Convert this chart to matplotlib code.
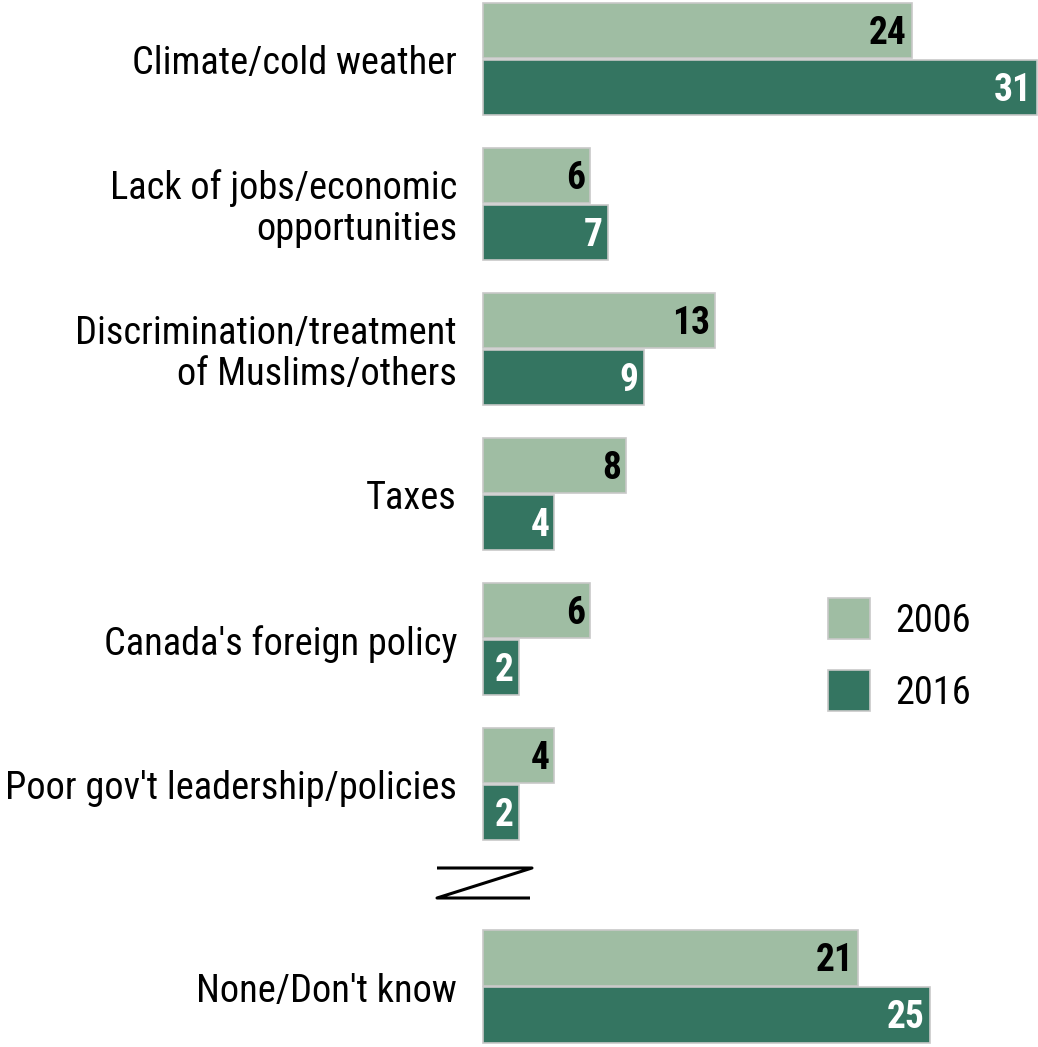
import matplotlib
matplotlib.use("Agg")
import matplotlib.pyplot as plt
from matplotlib.patches import Rectangle
from matplotlib.lines import Line2D

categories = [
    "Climate/cold weather",
    "Lack of jobs/economic\nopportunities",
    "Discrimination/treatment\nof Muslims/others",
    "Taxes",
    "Canada's foreign policy",
    "Poor gov't leadership/policies",
    "None/Don't know",
]
values_2006 = [24, 6, 13, 8, 6, 4, 21]
values_2016 = [31, 7, 9, 4, 2, 2, 25]
series_names = ["2006", "2016"]

color_2006 = "#9fbda3"
color_2016 = "#347561"
edge_color = "#c8c8c8"

plt.rcParams["font.family"] = ["Roboto Condensed", "DejaVu Sans"]

W, H = 1038, 1047
fig = plt.figure(figsize=(W / 100, H / 100), dpi=100)
ax = fig.add_axes([0, 0, 1, 1])

# x in value units (bars start at pixel 483), y in pixel rows from the top
px_per_unit = 554 / 31
x0 = 483 / px_per_unit
ax.set_xlim(-x0, (W - 483) / px_per_unit)
ax.set_ylim(H, 0)
ax.axis("off")

label_size = 27.6
value_size = 27

bar_h = 55.5
gap = 1.5
group_tops = [2.5 + 145 * i for i in range(6)] + [930]

for top, cat, v1, v2 in zip(group_tops, categories, values_2006, values_2016):
    y1 = top + bar_h / 2
    y2 = top + bar_h + gap + bar_h / 2
    ax.barh(y1, v1, height=bar_h, left=0, color=color_2006,
            edgecolor=edge_color, linewidth=1.2)
    ax.barh(y2, v2, height=bar_h, left=0, color=color_2016,
            edgecolor=edge_color, linewidth=1.2)
    pad = 5 / px_per_unit
    ax.text(v1 - pad, y1 + 3, str(v1), ha="right", va="center",
            fontsize=value_size, fontweight="bold", color="black")
    ax.text(v2 - pad, y2 + 3, str(v2), ha="right", va="center",
            fontsize=value_size, fontweight="bold", color="white")
    ax.text(-26 / px_per_unit, top + bar_h + gap / 2 + 5, cat, ha="right",
            va="center", fontsize=label_size, color="black", linespacing=1.15)

# axis break marker between the listed reasons and "None/Don't know"
def px(xp):
    return xp / px_per_unit - x0

zx = [px(437), px(532), px(437), px(530)]
zy = [868, 868, 898, 898]
ax.add_line(Line2D(zx, zy, color="black", linewidth=2.2, solid_capstyle="butt"))

# legend
for name, color, ytop in zip(series_names, [color_2006, color_2016], [598, 670]):
    ax.add_patch(Rectangle((px(828), ytop), 42 / px_per_unit, 41,
                           facecolor=color, edgecolor=edge_color, linewidth=1.2))
    ax.text(px(895), ytop + 24, name, ha="left", va="center",
            fontsize=label_size, color="black")

fig.savefig("out.png", dpi=100)
